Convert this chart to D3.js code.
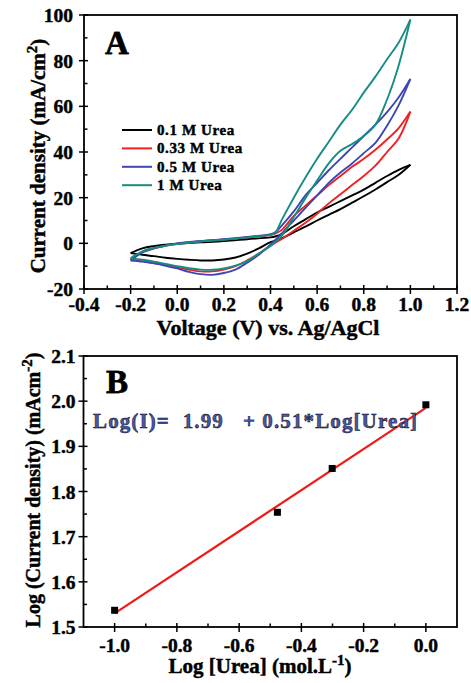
<!DOCTYPE html>
<html>
<head>
<meta charset="utf-8">
<script src="https://cdn.jsdelivr.net/npm/d3@7"></script>
<style>
  body { margin: 0; background: #fff; }
  text { font-family: "Liberation Serif", "Times New Roman", serif; font-weight: bold; stroke: #000; stroke-width: 0.45px; }
</style>
</head>
<body>
<div id="chart"></div>
<script>
// ---- panel A data: cyclic voltammograms ----
const vForward = [-0.2, -0.15, -0.1, -0.05, 0, 0.1, 0.2, 0.3, 0.4, 0.42, 0.45, 0.5, 0.55, 0.6, 0.65, 0.7, 0.75, 0.8, 0.85, 0.9, 0.95, 1.0];
const vReverse = [1.0, 0.95, 0.9, 0.85, 0.8, 0.75, 0.7, 0.65, 0.6, 0.55, 0.5, 0.45, 0.4, 0.35, 0.3, 0.25, 0.2, 0.15, 0.1, 0.05, 0, -0.05, -0.1, -0.15, -0.2];

const fwd01 = [-4.3, -2.2, -1.2, -0.6, -0.2, 0.4, 1.0, 1.8, 2.6, 3.0, 4.2, 7.5, 10.5, 13.5, 16, 18.5, 21, 23.5, 26.5, 29.5, 32.2, 34.4];
const rev01 = [34.4, 30, 26.8, 23.6, 20.6, 17.8, 15, 12.5, 10, 7.3, 4.8, 2.3, 0.5, -2.2, -4.5, -6.2, -7.1, -7.5, -7.5, -7.2, -6.8, -6.3, -5.6, -5.0, -4.3];

const fwd033 = [-7, -3.8, -2.2, -1.1, -0.2, 0.9, 1.7, 2.6, 3.6, 4.2, 6, 12, 16.5, 21, 25.5, 29.5, 33.5, 37, 41, 45.5, 50.5, 57.7];
const rev033 = [57.7, 46, 40, 34, 29.5, 25.5, 21.5, 17.5, 13, 9, 5.5, 2, -1, -4.5, -7.5, -10, -11.5, -12.3, -12.3, -11.5, -10.5, -9.5, -8.6, -7.8, -7];

const fwd05 = [-7.5, -4, -2.2, -1, 0, 1, 1.8, 2.8, 4, 4.8, 8, 14, 21, 26.5, 32, 37, 42, 47, 52, 57.5, 64, 72];
const rev05 = [72, 60.5, 51.5, 44, 39.5, 35, 31, 26.5, 21, 15.5, 10, 4.5, -0.5, -5, -8.5, -11.5, -13, -13.8, -13.5, -12.5, -11, -9.8, -8.8, -8, -7.5];

const fwd1 = [-6.5, -3.5, -2.0, -1.0, -0.3, 0.8, 1.6, 2.6, 3.8, 4.6, 10.6, 20, 28.8, 37, 44.5, 52, 58.5, 66, 73, 80.6, 88, 98];
const rev1 = [98, 78, 63, 52, 47, 43.5, 40.5, 35, 27.5, 19.8, 11.5, 3.5, -1.2, -4.5, -7.8, -9.8, -11, -11.6, -11.5, -10.9, -10, -9, -8, -7.2, -6.5];

const seriesNames = ["0.1 M Urea", "0.33 M Urea", "0.5 M Urea", "1 M Urea"];
const seriesColors = ["#000000", "#f02020", "#3c46b4", "#168c82"];
const forwardSets = [fwd01, fwd033, fwd05, fwd1];
const reverseSets = [rev01, rev033, rev05, rev1];

// ---- panel B data: log-log plot ----
const logUrea = [-1.0, -0.477, -0.301, 0.0];
const logCurrent = [1.537, 1.754, 1.851, 1.992];
const fitX = [-1.0, 0.0];
const fitY = [1.53, 1.985];
const equationText = "Log(I)=  1.99   + 0.51*Log[Urea]";

const width = 471, height = 683;

const svg = d3.select("#chart")
    .append("svg")
    .attr("width", width)
    .attr("height", height);

// draws frame, ticks (major crossing, minor inside) and labels
function drawFrame(x, y, opt) {
    const [x0, x1] = x.range();
    const [y0, y1] = y.range(); // y0 bottom, y1 top
    const g = svg.append("g");

    g.append("rect")
        .attr("x", x0).attr("y", y1)
        .attr("width", x1 - x0).attr("height", y0 - y1)
        .attr("fill", "none").attr("stroke", "#000").attr("stroke-width", 1.8);

    // x ticks
    opt.xMinor.forEach(v => {
        g.append("line").attr("x1", x(v)).attr("x2", x(v))
            .attr("y1", y0).attr("y2", y0 - 3.5)
            .attr("stroke", "#000").attr("stroke-width", 1.5);
    });
    opt.xMajor.forEach(v => {
        g.append("line").attr("x1", x(v)).attr("x2", x(v))
            .attr("y1", y0 + 5).attr("y2", y0 - 4)
            .attr("stroke", "#000").attr("stroke-width", 1.5);
        g.append("text")
            .attr("x", x(v))
            .attr("y", y0 + opt.xLabelDy)
            .attr("text-anchor", "middle")
            .attr("font-size", "19.5px")
            .text(opt.xFormat(v));
    });

    // y ticks
    opt.yMinor.forEach(v => {
        g.append("line").attr("x1", x0).attr("x2", x0 + 3.5)
            .attr("y1", y(v)).attr("y2", y(v))
            .attr("stroke", "#000").attr("stroke-width", 1.5);
    });
    opt.yMajor.forEach(v => {
        g.append("line").attr("x1", x0 - 5).attr("x2", x0 + 4)
            .attr("y1", y(v)).attr("y2", y(v))
            .attr("stroke", "#000").attr("stroke-width", 1.5);
        g.append("text")
            .attr("x", x0 - opt.yLabelDx)
            .attr("y", y(v) + 7)
            .attr("text-anchor", "end")
            .attr("font-size", "19.5px")
            .text(opt.yFormat(v));
    });
}

const fmt1 = d => d3.format(".1f")(d).replace("−", "-");

// ================= Panel A =================
const xA = d3.scaleLinear().domain([-0.4, 1.2]).range([84, 457]);
const yA = d3.scaleLinear().domain([-20, 100]).range([289, 15]);

drawFrame(xA, yA, {
    xMajor: d3.range(-0.4, 1.21, 0.2).map(d => +d.toFixed(2)),
    xMinor: d3.range(-0.3, 1.2, 0.2).map(d => +d.toFixed(2)),
    yMajor: d3.range(-20, 101, 20),
    yMinor: d3.range(-10, 100, 20),
    xFormat: fmt1,
    yFormat: d => String(d).replace("−", "-"),
    xLabelDy: 22,
    yLabelDx: 11
});

const lineA = d3.line()
    .x(d => xA(d[0]))
    .y(d => yA(d[1]))
    .curve(d3.curveCatmullRom.alpha(0.5));

seriesNames.forEach((name, i) => {
    const fwd = vForward.map((v, j) => [v, forwardSets[i][j]]);
    const rev = vReverse.map((v, j) => [v, reverseSets[i][j]]);
    [fwd, rev].forEach(pts => {
        svg.append("path")
            .datum(pts)
            .attr("d", lineA)
            .attr("fill", "none")
            .attr("stroke", seriesColors[i])
            .attr("stroke-width", 1.9)
            .attr("stroke-linejoin", "round");
    });
});

// legend
const legendA = svg.append("g").attr("transform", "translate(122, 130)");
seriesNames.forEach((name, i) => {
    legendA.append("line")
        .attr("x1", 0).attr("x2", 30)
        .attr("y1", i * 18.4).attr("y2", i * 18.4)
        .attr("stroke", seriesColors[i]).attr("stroke-width", 2);
    legendA.append("text")
        .attr("x", 35).attr("y", i * 18.4 + 5)
        .attr("font-size", "15px")
        .attr("letter-spacing", "0.6px")
        .text(name);
});

// panel letter with light blue halo
function panelLetter(txt, x, y) {
    svg.append("text").attr("x", x).attr("y", y)
        .attr("font-size", "33px")
        .attr("fill", "#cfe3f4").attr("stroke", "#cfe3f4").attr("stroke-width", 4)
        .text(txt);
    svg.append("text").attr("x", x).attr("y", y)
        .attr("font-size", "33px").attr("fill", "#000")
        .text(txt);
}
panelLetter("A", 105, 54);

// axis titles A
svg.append("text")
    .attr("x", 268).attr("y", 335)
    .attr("text-anchor", "middle")
    .attr("font-size", "22px")
    .text("Voltage (V) vs. Ag/AgCl");

const yTitleA = svg.append("text")
    .attr("transform", "translate(45, 156) rotate(-90)")
    .attr("text-anchor", "middle")
    .attr("font-size", "21px");
yTitleA.append("tspan").text("Current density (mA/cm");
yTitleA.append("tspan").attr("font-size", "15px").attr("dy", -8).text("2");
yTitleA.append("tspan").attr("dy", 8).text(")");

// ================= Panel B =================
const xB = d3.scaleLinear().domain([-1.1, 0.1]).range([83.5, 457]);
const yB = d3.scaleLinear().domain([1.5, 2.1]).range([627, 356]);

drawFrame(xB, yB, {
    xMajor: d3.range(-1.0, 0.01, 0.2).map(d => +d.toFixed(2)),
    xMinor: d3.range(-0.9, 0.1, 0.2).map(d => +d.toFixed(2)),
    yMajor: d3.range(1.5, 2.11, 0.1).map(d => +d.toFixed(2)),
    yMinor: d3.range(1.55, 2.1, 0.1).map(d => +d.toFixed(2)),
    xFormat: fmt1,
    yFormat: fmt1,
    xLabelDy: 25,
    yLabelDx: 8
});

svg.append("path")
    .datum(fitX.map((v, i) => [v, fitY[i]]))
    .attr("d", d3.line().x(d => xB(d[0])).y(d => yB(d[1])))
    .attr("stroke", "#f01818")
    .attr("stroke-width", 2.2)
    .attr("fill", "none");

svg.selectAll(".pt")
    .data(logUrea.map((v, i) => [v, logCurrent[i]]))
    .enter()
    .append("rect")
    .attr("class", "pt")
    .attr("x", d => xB(d[0]) - 3.5)
    .attr("y", d => yB(d[1]) - 3.5)
    .attr("width", 7)
    .attr("height", 7)
    .attr("fill", "#000");

svg.append("text")
    .attr("x", 93).attr("y", 428)
    .attr("font-size", "21px")
    .attr("fill", "#4b56a8")
    .attr("stroke", "#4b56a8")
    .attr("textLength", 324)
    .attr("lengthAdjust", "spacing")
    .style("white-space", "pre")
    .text(equationText);

panelLetter("B", 106, 393);

svg.append("text")
    .attr("x", 260).attr("y", 673)
    .attr("text-anchor", "middle")
    .attr("font-size", "21px")
    .call(t => {
        t.append("tspan").text("Log [Urea] (mol.L");
        t.append("tspan").attr("font-size", "15px").attr("dy", -8).text("-1");
        t.append("tspan").attr("dy", 8).text(")");
    });

const yTitleB = svg.append("text")
    .attr("transform", "translate(40, 490) rotate(-90)")
    .attr("text-anchor", "middle")
    .attr("font-size", "20px");
yTitleB.append("tspan").text("Log (Current density) (mAcm");
yTitleB.append("tspan").attr("font-size", "15px").attr("dy", -8).text("-2");
yTitleB.append("tspan").attr("dy", 8).text(")");
</script>
</body>
</html>
